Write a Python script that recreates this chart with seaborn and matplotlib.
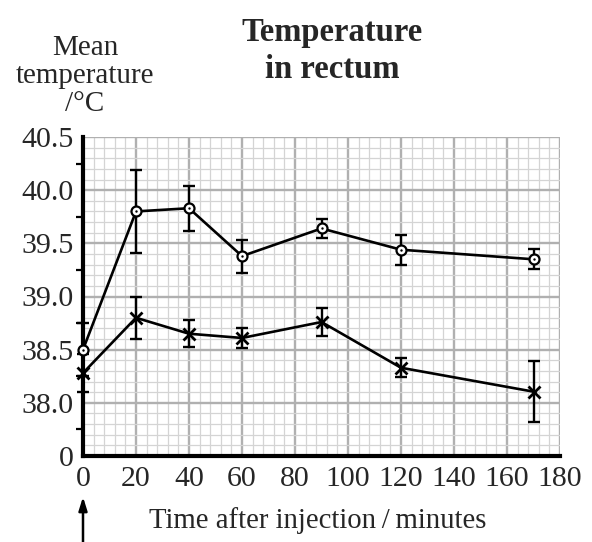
import numpy as np
import pandas as pd
import matplotlib
matplotlib.use("Agg")
import matplotlib.pyplot as plt
from matplotlib.ticker import MultipleLocator, FixedLocator
import seaborn as sns

# ---- data ----
time = [0, 20, 40, 60, 90, 120, 170]
upper_mean = [38.50, 39.80, 39.83, 39.38, 39.64, 39.44, 39.35]
upper_err = [0.25, 0.39, 0.21, 0.155, 0.09, 0.14, 0.095]
lower_mean = [38.28, 38.80, 38.65, 38.61, 38.76, 38.33, 38.105]
lower_err = [0.18, 0.20, 0.125, 0.095, 0.135, 0.09, 0.285]

x_ticks = [0, 20, 40, 60, 80, 100, 120, 140, 160, 180]
y_ticks = [37.5, 38.0, 38.5, 39.0, 39.5, 40.0, 40.5]
y_tick_labels = ["0", "38.0", "38.5", "39.0", "39.5", "40.0", "40.5"]
y_quarter_ticks = [37.75, 38.25, 38.75, 39.25, 39.75, 40.25]

title_text = "Temperature\nin rectum"
ylabel_text = "Mean\ntemperature\n/\u00b0C"
xlabel_text = "Time after injection\u2009/\u2009minutes"

sns.set_style("white")
plt.rcParams["font.family"] = ["Liberation Serif", "DejaVu Serif"]

fig = plt.figure(figsize=(5.92, 5.42), dpi=100)
ax = fig.add_axes([83 / 592, 86 / 542, 477 / 592, 319 / 542])

ax.set_xlim(0, 180)
ax.set_ylim(37.5, 40.5)

# grid
ax.xaxis.set_major_locator(FixedLocator(x_ticks))
ax.xaxis.set_minor_locator(MultipleLocator(4))
ax.yaxis.set_major_locator(FixedLocator(y_ticks))
ax.yaxis.set_minor_locator(MultipleLocator(0.1))
ax.grid(which="major", color="#b0b0b0", linewidth=1.7, zorder=0)
ax.grid(which="minor", color="#d4d4d4", linewidth=0.9, zorder=0)
ax.set_axisbelow(True)

ax.set_yticklabels(y_tick_labels)
ax.tick_params(axis="both", which="major", direction="out", length=5, width=1.6,
               color="black", labelsize=21.5, pad=2)
ax.tick_params(axis="x", which="major", pad=2)
ax.tick_params(axis="both", which="minor", length=0)

for s in ["top", "right"]:
    ax.spines[s].set_visible(False)
for s in ["left", "bottom"]:
    ax.spines[s].set_linewidth(3)
    ax.spines[s].set_color("black")
    ax.spines[s].set_zorder(3)

sec = ax.secondary_yaxis("left")
sec.set_yticks(y_quarter_ticks)
sec.set_yticklabels([""] * len(y_quarter_ticks))
sec.tick_params(direction="out", length=5, width=1.6, color="black")
sec.spines["left"].set_visible(False)

df_up = pd.DataFrame({"time": time, "temp": upper_mean})
df_lo = pd.DataFrame({"time": time, "temp": lower_mean})

# error bars
for mean, err in [(upper_mean, upper_err), (lower_mean, lower_err)]:
    cont = ax.errorbar(time, mean, yerr=err, fmt="none", ecolor="black",
                       elinewidth=1.7, capsize=4.3, capthick=1.7, zorder=4)
    for art in cont.get_children():
        art.set_clip_on(False)

sns.lineplot(data=df_up, x="time", y="temp", ax=ax, color="black", linewidth=1.9,
             marker="o", markersize=7.2, markerfacecolor="white",
             markeredgecolor="black", markeredgewidth=1.6, zorder=5, clip_on=False)
sns.scatterplot(data=df_up, x="time", y="temp", ax=ax, color="black", s=3,
                linewidth=0, zorder=6, clip_on=False)
sns.lineplot(data=df_lo, x="time", y="temp", ax=ax, color="black", linewidth=1.9,
             marker="x", markersize=8.5, markeredgecolor="black",
             markeredgewidth=2, zorder=5, clip_on=False)

ax.set_xlabel("")
ax.set_ylabel("")
ax.set_xlim(0, 180)
ax.set_ylim(37.5, 40.5)

# texts
fig.text(332 / 592, 1 - 51 / 542, title_text, ha="center", va="center",
         fontsize=23.5, fontweight="bold", linespacing=1.25, multialignment="center")
fig.text(85 / 592, 1 - 76 / 542, ylabel_text, ha="center", va="center",
         fontsize=21, linespacing=1.08, multialignment="center")
fig.text(318 / 592, 1 - 521 / 542, xlabel_text, ha="center", va="center",
         fontsize=20.7)

# arrow marking the injection time
ax.annotate("", xy=(0, -0.128), xycoords=("data", "axes fraction"),
            xytext=(0, -0.28), textcoords=("data", "axes fraction"),
            arrowprops=dict(arrowstyle="-|>,head_length=0.8,head_width=0.25",
                            lw=1.8, color="black", shrinkA=0, shrinkB=0),
            annotation_clip=False)

fig.savefig("out.png", dpi=100)
